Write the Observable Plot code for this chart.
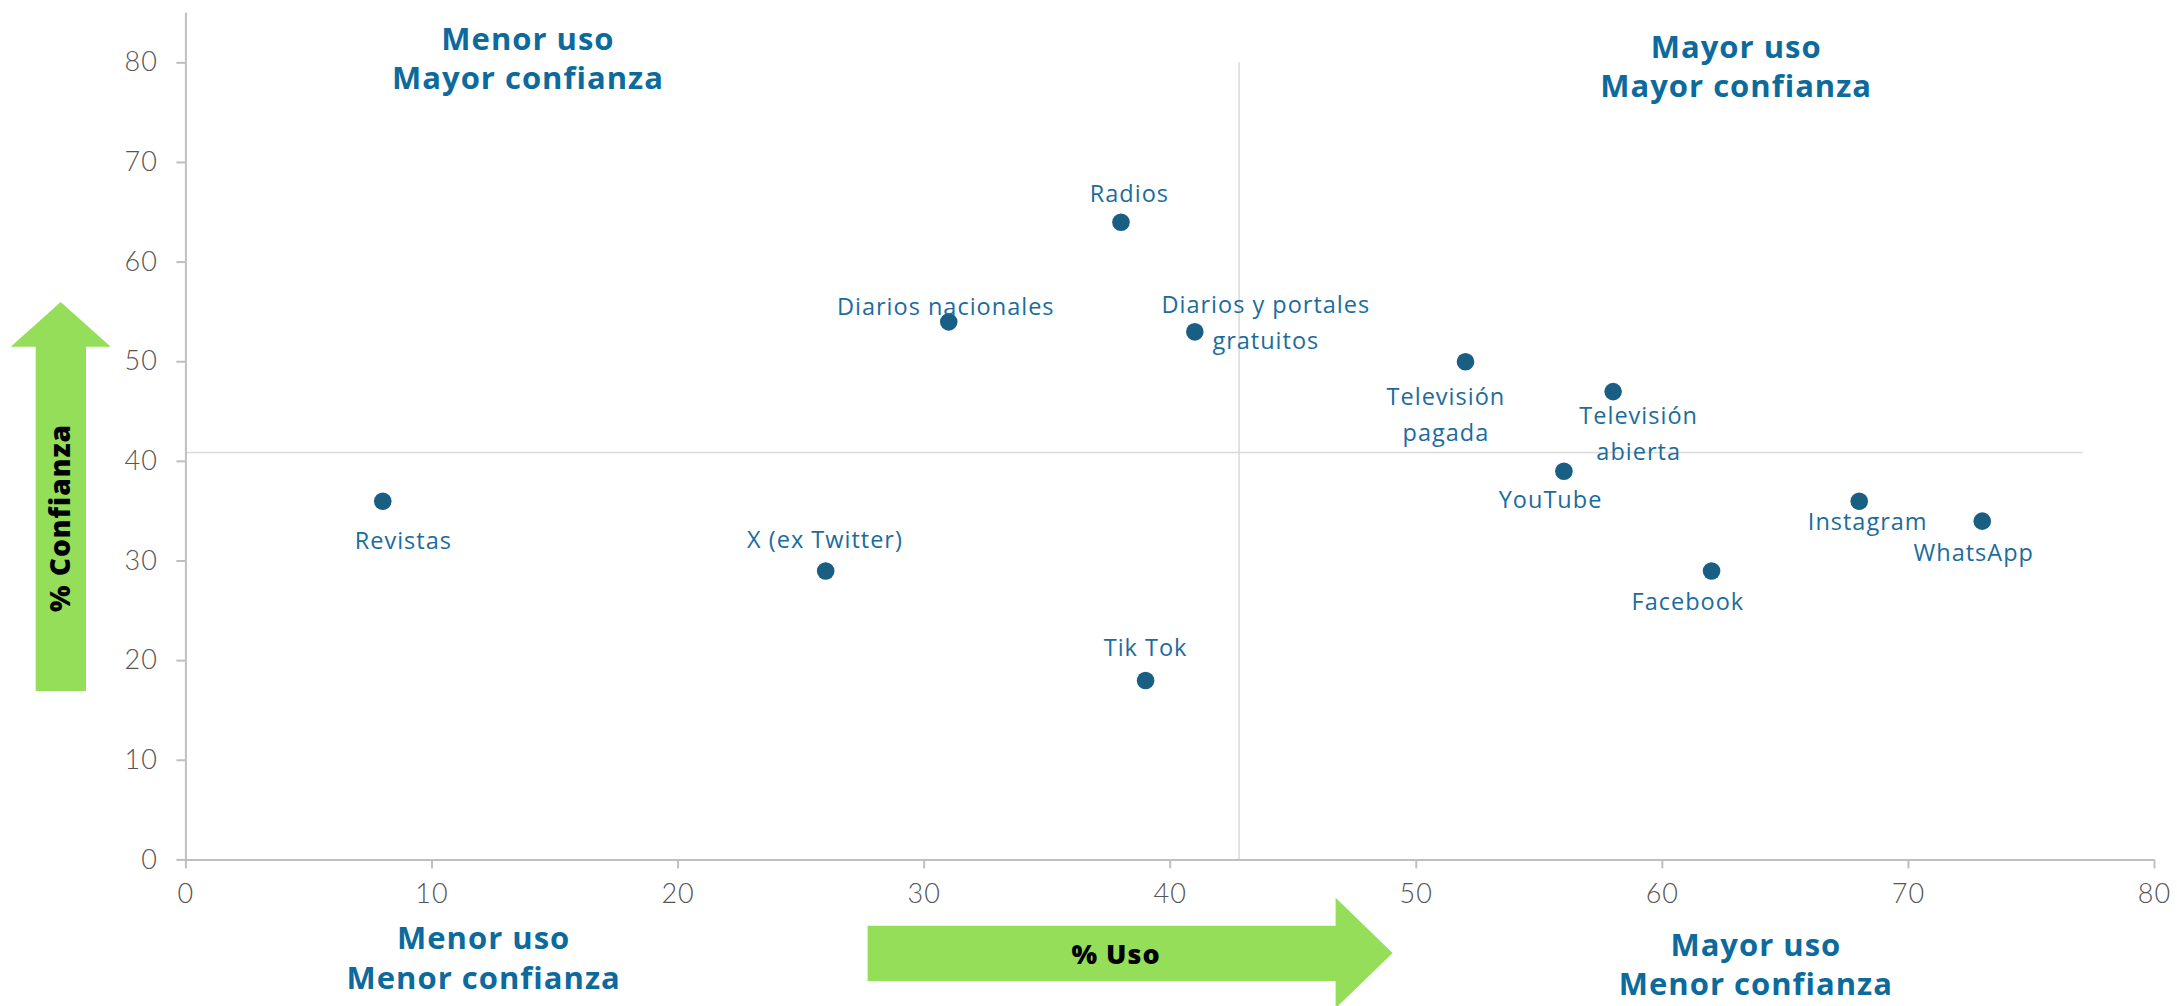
<!DOCTYPE html>
<html>
<head>
<meta charset="utf-8">
<script src="https://cdn.jsdelivr.net/npm/d3@7"></script>
<script src="https://cdn.jsdelivr.net/npm/@observablehq/plot@0.6"></script>
<style>
  html, body { margin: 0; padding: 0; background: #ffffff; }
  #chart svg { display: block; }
  #chart svg text { letter-spacing: 1px; }
</style>
</head>
<body>
<div id="chart"></div>
<script>
// ---- Data ----
const medios = [
  "Revistas", "X (ex Twitter)", "Diarios nacionales", "Radios", "Tik Tok",
  "Diarios y portales\ngratuitos", "Televisión\npagada", "YouTube",
  "Televisión\nabierta", "Facebook", "Instagram", "WhatsApp"
];
const uso       = [8, 26, 31, 38, 39, 41, 52, 56, 58, 62, 68, 73];
const confianza = [36, 29, 54, 64, 18, 53, 50, 39, 47, 29, 36, 34];

// reference (quadrant) lines
const refUso = 42.8;
const refConfianza = 40.9;

const xTicks = [0, 10, 20, 30, 40, 50, 60, 70, 80];
const yTicks = [0, 10, 20, 30, 40, 50, 60, 70, 80];

const quadrantText = [
  "Menor uso\nMayor confianza",
  "Mayor uso\nMayor confianza",
  "Menor uso\nMenor confianza",
  "Mayor uso\nMenor confianza"
];
const quadrantUso = [13.9, 63.0, 12.1, 63.8];
const quadrantConf = [80.6, 79.8, -9.7, -10.35];

const axisTitleX = "% Uso";
const axisTitleY = "% Confianza";

// ---- Layout (label offsets in px, not data) ----
const labelOffset = [
  [20.6, 36.7], [-0.7, -34.7], [-3, -18], [8.4, -32], [0, -36.3],
  [71, -12.5], [-19.6, 49.6], [-13.4, 24.7], [25.5, 38.5],
  [-23.7, 27.6], [8.5, 17.3], [-8.5, 28]
];

const data = medios.map((m, i) => ({medio: m, uso: uso[i], confianza: confianza[i], i}));
const quads = quadrantText.map((t, i) => ({t, x: quadrantUso[i], y: quadrantConf[i]}));

const W = 2177, H = 1006;
const green = "#95de5a";
const dotColor = "#195e83";
const labelColor = "#1b6c9c";
const quadColor = "#0d6a9c";
const labelFont = "'Open Sans', 'Noto Sans', sans-serif";
const tickFont = "Lato, 'Open Sans', sans-serif";

function decor(index, scales, values, dims) {
  const g = d3.create("svg:g");
  // vertical arrow (% Confianza)
  g.append("path")
    .attr("d", "M60.7,302 L110.7,346.7 L86,346.7 L86,691 L35.7,691 L35.7,346.7 L10.7,346.7 Z")
    .attr("fill", green);
  g.append("text")
    .attr("transform", "translate(59,518) rotate(-90)")
    .attr("text-anchor", "middle").attr("dominant-baseline", "central")
    .attr("font-family", labelFont).attr("font-weight", 800).attr("font-size", 28)
    .attr("fill", "#000").text(axisTitleY);
  // horizontal arrow (% Uso)
  g.append("path")
    .attr("d", "M867.6,925.7 L1335.6,925.7 L1335.6,897.7 L1392.6,953 L1335.6,1008.3 L1335.6,981 L867.6,981 Z")
    .attr("fill", green);
  g.append("text")
    .attr("x", 1116).attr("y", 953)
    .attr("text-anchor", "middle").attr("dominant-baseline", "central")
    .attr("font-family", labelFont).attr("font-weight", 800).attr("font-size", 27)
    .attr("fill", "#000").text(axisTitleX);
  return g.node();
}

const labelMarks = data.map(d => Plot.text([d], {
  x: "uso", y: "confianza", text: "medio",
  dx: labelOffset[d.i][0], dy: labelOffset[d.i][1],
  fill: labelColor, fontSize: 23.5, fontFamily: labelFont,
  lineAnchor: "middle", lineHeight: 1.53, textAnchor: "middle"
}));

const chart = Plot.plot({
  width: W, height: H,
  marginLeft: 185.4, marginRight: 23, marginTop: 12.5, marginBottom: 146.6,
  x: {domain: [0, 80]},
  y: {domain: [0, 85]},
  style: {background: "#ffffff", overflow: "visible"},
  marks: [
    decor,
    Plot.ruleY([refConfianza], {x1: 0, x2: 77.1, stroke: "#d9d9d9", strokeWidth: 1.5}),
    Plot.ruleX([refUso], {y1: 0, y2: 80, stroke: "#d9d9d9", strokeWidth: 1.5}),
    Plot.axisX({ticks: xTicks, tickSize: 9, tickPadding: 15, stroke: "#bfbfbf", strokeWidth: 2,
      fill: "#555555", fontSize: 27, fontFamily: tickFont, fontWeight: 300, label: null}),
    Plot.axisY({ticks: yTicks, tickSize: 9, tickPadding: 19, stroke: "#bfbfbf", strokeWidth: 2,
      fill: "#555555", fontSize: 27, fontFamily: tickFont, fontWeight: 300, label: null}),
    Plot.ruleX([0], {y1: 0, y2: 85, stroke: "#bfbfbf", strokeWidth: 2}),
    Plot.ruleY([0], {x1: 0, x2: 80, stroke: "#bfbfbf", strokeWidth: 2}),
    Plot.dot(data, {x: "uso", y: "confianza", r: 8.8, fill: dotColor, stroke: "none"}),
    ...labelMarks,
    Plot.text(quads, {x: "x", y: "y", text: "t", fill: quadColor, fontSize: 31,
      fontWeight: 700, fontFamily: labelFont, lineAnchor: "middle", lineHeight: 1.27, textAnchor: "middle"})
  ]
});
document.getElementById("chart").appendChild(chart);
</script>
</body>
</html>
